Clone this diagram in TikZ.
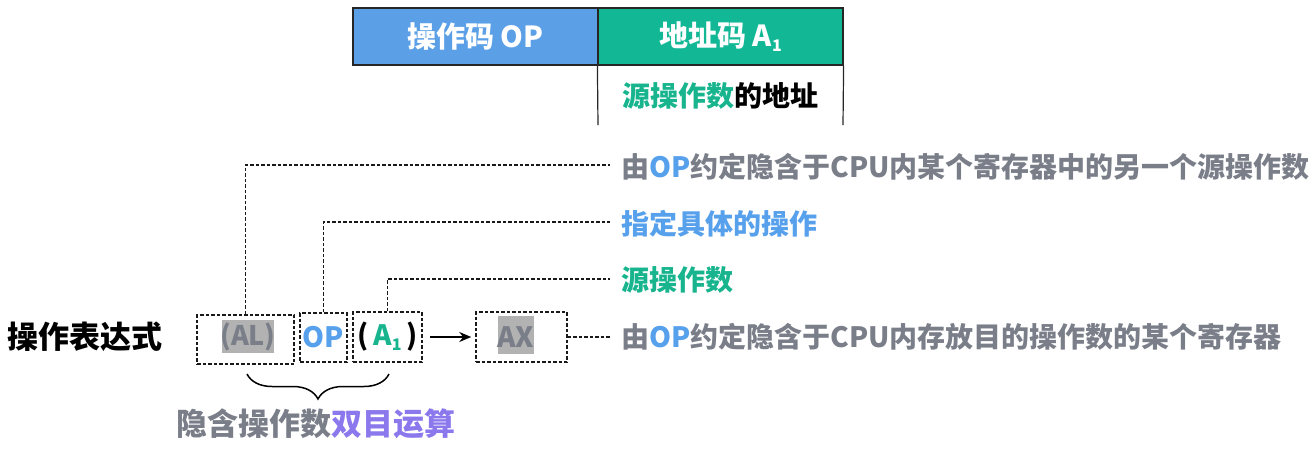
\documentclass[tikz,border=0pt]{standalone}
\usepackage{fontspec}
\setmainfont{Noto Sans CJK SC}
\usetikzlibrary{decorations.pathreplacing, arrows.meta}
\definecolor{hblue}{HTML}{5BA0E6}
\definecolor{hgreen}{HTML}{12B896}
\definecolor{tgray}{HTML}{7A7E89}
\definecolor{tblue}{HTML}{56A0EC}
\definecolor{tgreen}{HTML}{17B48E}
\definecolor{tpurple}{HTML}{8A78EC}
\definecolor{hl}{HTML}{B2B2B2}
\newcommand\mysub[1]{\raisebox{-0.3ex}{\fontsize{16}{16}\selectfont #1}}
\newcommand\fs[1]{\fontsize{#1}{#1}\selectfont\bfseries}
\begin{document}
\begin{tikzpicture}[x=1pt,y=-1pt,
  cell/.style={draw=black!85, line width=1.2pt, inner sep=0pt, text=white, font=\fs{29}},
  dbox/.style={draw=black!90, dash pattern=on 3.5pt off 2pt, line width=1.5pt, inner sep=0pt},
  dl/.style={draw=black!90, dash pattern=on 3.5pt off 2pt, line width=1.4pt},
  lab/.style={anchor=west, inner sep=0pt, font=\fs{28}},
  txt/.style={inner sep=0pt, font=\fs{28}}]
\useasboundingbox (0,0) rectangle (1310,451);
% header table
\node[cell, fill=hblue, minimum width=245pt, minimum height=57pt] (op) at (475.5,36.5) {操作码 OP};
\node[cell, fill=hgreen, minimum width=245pt, minimum height=57pt] (ad) at (720.5,36.5) {地址码 A\mysub{1}};
\coordinate (l1) at (598,125);
\coordinate (l2) at (843,125);
\draw[black!85, line width=1.2pt] (ad.south west) -- (l1);
\draw[black!85, line width=1.2pt] (ad.south east) -- (l2);
\node[txt] (src) at (720.5,96) {\textcolor{tgreen}{源操作数}的地址};
% expression
\node[txt, font=\fs{31}] (expr) at (85,337) {操作表达式};
\fill[hl] (222,320) rectangle (274,353);
\fill[hl] (498,316) rectangle (534,354);
\node[dbox, minimum width=97pt, minimum height=49pt] (al) at (245.5,339.5) {};
\node[txt, text=tgray, font=\fs{27}] (alt) at (248,337) {(AL)};
\node[dbox, minimum width=47pt, minimum height=49pt, text=tblue, font=\fs{28}] (opb) at (323.5,337.5) {OP};
\node[dbox, minimum width=69pt, minimum height=50pt, font=\fs{28}] (a1) at (387.5,337) {(\,\textcolor{tgreen}{A\mysub{1}}\,)};
\node[dbox, minimum width=91pt, minimum height=50pt] (ax) at (521.5,337) {};
\node[txt, text=tgray, font=\fs{28}] (axt) at (516,337) {AX};
\draw[-{Stealth[length=12pt,width=10pt]}, line width=1.5pt, shorten <=7pt, shorten >=4pt] (a1.east) -- (ax.west);
% connectors
\coordinate (c1) at (610,165);
\coordinate (c2) at (610,222);
\coordinate (c3) at (610,279);
\coordinate (c4) at (610,337);
\draw[dl] (al.north) |- (c1);
\draw[dl] (opb.north) |- (c2);
\draw[dl] (a1.north) |- (c3);
\draw[dl] (ax.east) -- (c4);
\node[lab, text=tgray] (t1) at (621,167) {由\textcolor{tblue}{OP}约定隐含于CPU内某个寄存器中的另一个源操作数};
\node[lab, text=tblue] (t2) at (621,224) {指定具体的操作};
\node[lab, text=tgreen] (t3) at (621,280) {源操作数};
\node[lab, text=tgray] (t4) at (621,337) {由\textcolor{tblue}{OP}约定隐含于CPU内存放目的操作数的某个寄存器};
% brace
\coordinate (b1) at (247,374);
\coordinate (b2) at (389,374);
\draw[line width=1.5pt, decorate, decoration={brace, mirror, amplitude=25pt}] (b1) -- (b2);
\node[txt, font=\fs{31}, text=tgray] (bot) at (316,424) {隐含操作数\textcolor{tpurple}{双目运算}};
\end{tikzpicture}
\end{document}
